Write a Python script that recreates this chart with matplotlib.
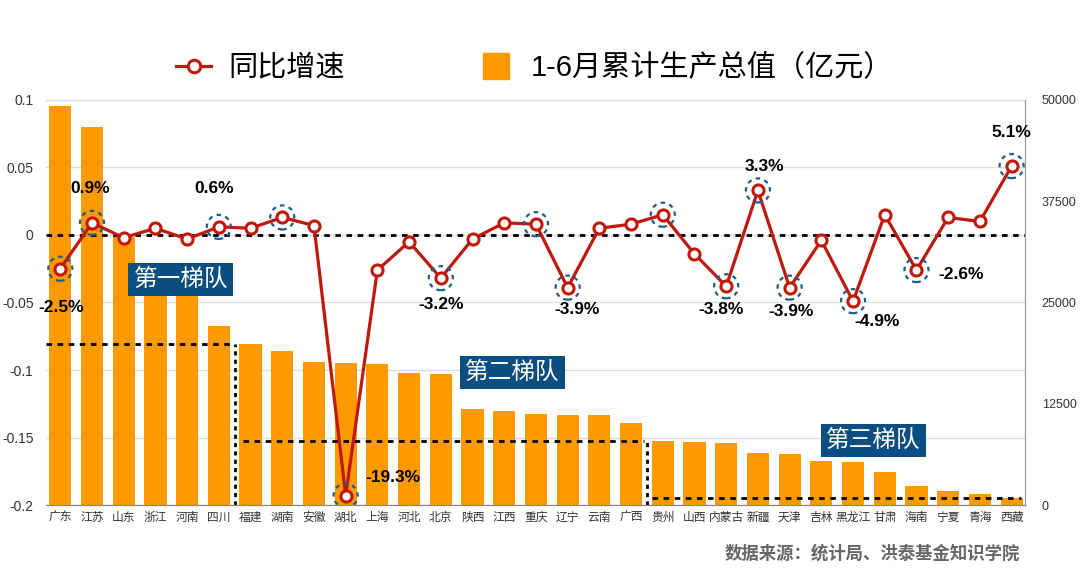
import matplotlib.pyplot as plt
from matplotlib.lines import Line2D

plt.rcParams['font.family'] = ['Liberation Sans', 'Noto Sans CJK SC']

provinces = ['广东', '江苏', '山东', '浙江', '河南', '四川', '福建', '湖南', '安徽', '湖北',
             '上海', '河北', '北京', '陕西', '江西', '重庆', '辽宁', '云南', '广西', '贵州',
             '山西', '内蒙古', '新疆', '天津', '吉林', '黑龙江', '甘肃', '海南', '宁夏', '青海', '西藏']
# 1-6月累计生产总值（亿元）
output = [49200, 46700, 33100, 29500, 26000, 22100, 19900, 19000, 17650, 17500,
          17400, 16300, 16200, 11850, 11650, 11230, 11100, 11100, 10160, 7900,
          7800, 7700, 6380, 6300, 5430, 5270, 4100, 2400, 1770, 1360, 830]
# 同比增速
growth = [-0.025, 0.009, -0.002, 0.005, -0.003, 0.006, 0.005, 0.013, 0.007, -0.193,
          -0.026, -0.005, -0.032, -0.003, 0.009, 0.008, -0.039, 0.005, 0.008, 0.015,
          -0.014, -0.038, 0.033, -0.039, -0.004, -0.049, 0.015, -0.026, 0.013, 0.010, 0.051]

circled = ['广东', '江苏', '四川', '湖南', '湖北', '北京', '重庆', '辽宁', '贵州',
           '内蒙古', '新疆', '天津', '黑龙江', '海南', '西藏']
# province -> label offset in points
labelled = {'广东': (1, -28), '江苏': (-1, 25), '四川': (-3, 28), '北京': (0, -19),
            '辽宁': (7, -16), '湖北': (34, 13), '新疆': (5, 17), '内蒙古': (-4, -17),
            '天津': (1, -17), '黑龙江': (17, -15), '海南': (32, -3), '西藏': (0, 24)}
tiers = [('第一梯队', 3.8, -0.033), ('第二梯队', 14.25, -0.102), ('第三梯队', 25.65, -0.152)]

orange = '#FF9900'
red = '#C0190B'
blue = '#0B4F82'

fig = plt.figure(figsize=(10.8, 5.74), dpi=100)
ax2 = fig.add_axes([0.0426, 0.1202, 0.9064, 0.7056])   # bars, right axis
ax = ax2.twinx()                                        # growth line, left axis
ax.yaxis.tick_left()
ax2.yaxis.tick_right()

x = list(range(len(provinces)))
ax2.set_xlim(-0.45, 30.42)
ax2.set_ylim(0, 50000)
ax.set_ylim(-0.2, 0.1)

# grid at left-axis ticks, drawn behind bars
left_ticks = [0.1, 0.05, 0, -0.05, -0.1, -0.15, -0.2]
for t in left_ticks:
    ax2.axhline((t + 0.2) / 0.3 * 50000, color='#dddddd', lw=1, zorder=0)

ax2.bar(x, output, width=0.7, color=orange, zorder=2)

# tier separators
ax2.hlines(output[6], -0.45, 5.5, colors='black', linestyles=(0, (2, 2)), lw=2, zorder=3)
ax2.vlines(5.5, 0, output[6], colors='black', linestyles=(0, (1.5, 1.5)), lw=2, zorder=3)
ax2.hlines(output[19], 5.75, 18.4, colors='black', linestyles=(0, (2, 2)), lw=2, zorder=3)
ax2.vlines(18.5, 0, output[19], colors='black', linestyles=(0, (1.5, 1.5)), lw=2, zorder=3)
ax2.hlines(output[30], 18.65, 30.3, colors='black', linestyles=(0, (2, 2)), lw=2, zorder=3)

ax.axhline(0, color='black', lw=2, ls=(0, (2, 2)), zorder=1)
ax.plot(x, growth, color=red, lw=2.3, marker='o', ms=8, mfc='white', mec=red, mew=2.2, zorder=3)

cx = [provinces.index(p) for p in circled]
ax.scatter(cx, [growth[i] for i in cx], s=300, facecolors='none', edgecolors='#1B5E8C',
           linewidths=1.6, linestyles=(0, (2, 2)), zorder=4)

for p, off in labelled.items():
    i = provinces.index(p)
    ax.annotate(f'{growth[i] * 100:.1f}%', (i, growth[i]), xytext=off, textcoords='offset points',
                ha='center', va='center', fontsize=12.5, fontweight='bold', color='black', zorder=5)

for name, tx, ty in tiers:
    ax.text(tx, ty, name, ha='center', va='center', fontsize=17, color='white', zorder=6,
            family='Noto Sans CJK SC',
            bbox=dict(boxstyle='square,pad=0.22', fc=blue, ec='none'))

# axes styling
ax2.set_xticks(x)
ax2.set_xticklabels(provinces, fontsize=8.5, color='#333333', family='Noto Sans CJK SC')
ax2.tick_params(axis='x', length=0, pad=4)
ax2.set_yticks([0, 12500, 25000, 37500, 50000])
ax2.set_yticklabels(['0', '12500', '25000', '37500', '50000'])
ax2.tick_params(axis='y', length=0, labelsize=9, colors='#333333', pad=12)
ax.set_yticks(left_ticks)
ax.set_yticklabels(['0.1', '0.05', '0', '-0.05', '-0.1', '-0.15', '-0.2'])
ax.tick_params(axis='y', length=0, labelsize=10, colors='#333333', pad=9)
for a in (ax, ax2):
    for s in ('top', 'left'):
        a.spines[s].set_visible(False)
    a.spines['right'].set_color('#999999')
    a.spines['bottom'].set_color('#888888')

handles = [Line2D([], [], color=red, lw=2.3, marker='o', ms=9, mfc='white', mec=red, mew=2.2),
           Line2D([], [], ls='none', marker='s', ms=19, color=orange)]
fig.legend(handles, ['同比增速', '1-6月累计生产总值（亿元）'], loc='center', ncol=2,
           bbox_to_anchor=(0.495, 0.882), frameon=False, fontsize=21, columnspacing=4.55,
           handlelength=1.2, handletextpad=0.6)

fig.text(0.944, 0.037, '数据来源：统计局、洪泰基金知识学院', ha='right', va='center',
         fontsize=12.5, fontweight='bold', color='#666666')

fig.savefig('out.png', dpi=100)
